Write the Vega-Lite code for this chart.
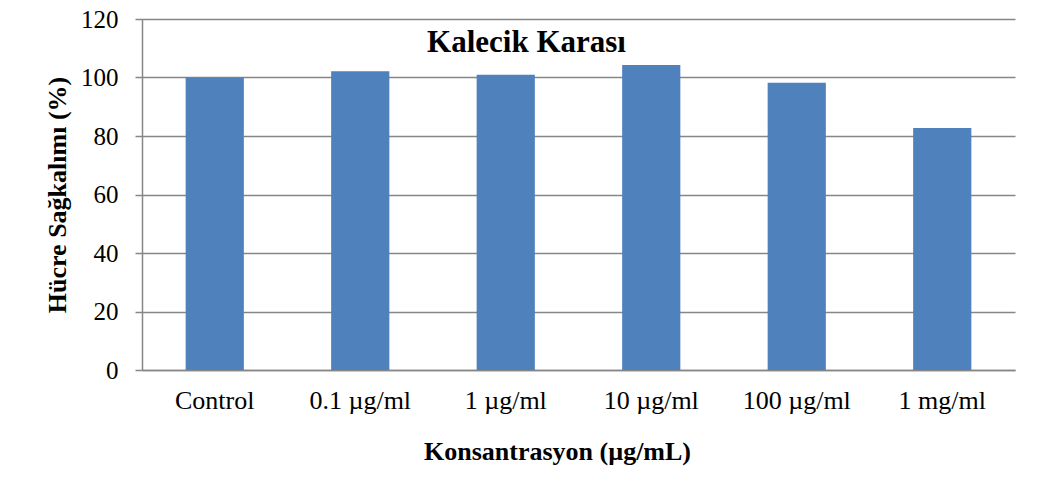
{
  "$schema": "https://vega.github.io/schema/vega-lite/v6.json",
  "width": 873,
  "height": 351,
  "autosize": {"type": "none"},
  "padding": {"left": 142, "top": 19, "right": 26, "bottom": 118},
  "background": "white",
  "data": {
    "values": [
      {"konsantrasyon": "Control", "sagkalim": 100.0},
      {"konsantrasyon": "0.1 µg/ml", "sagkalim": 102.1},
      {"konsantrasyon": "1 µg/ml", "sagkalim": 100.9},
      {"konsantrasyon": "10 µg/ml", "sagkalim": 104.3},
      {"konsantrasyon": "100 µg/ml", "sagkalim": 98.2},
      {"konsantrasyon": "1 mg/ml", "sagkalim": 82.7}
    ]
  },
  "title": {
    "text": "Kalecik Karası",
    "font": "Liberation Serif",
    "fontSize": 31,
    "fontWeight": "bold",
    "color": "black",
    "anchor": "middle",
    "offset": -52,
    "dx": -52
  },
  "mark": {"type": "bar", "color": "#4F81BD"},
  "encoding": {
    "x": {
      "field": "konsantrasyon",
      "type": "nominal",
      "sort": null,
      "scale": {"paddingInner": 0.6, "paddingOuter": 0.3},
      "axis": {
        "title": "Konsantrasyon (µg/mL)",
        "labelAngle": 0,
        "labelFont": "Liberation Serif",
        "labelFontSize": 26,
        "labelColor": "black",
        "labelPadding": 17,
        "ticks": false,
        "domainColor": "#868686",
        "domainWidth": 1.5,
        "titleFont": "Liberation Serif",
        "titleFontSize": 26,
        "titleFontWeight": "bold",
        "titleColor": "black",
        "titlePadding": 25,
        "titleX": 415
      }
    },
    "y": {
      "field": "sagkalim",
      "type": "quantitative",
      "scale": {"domain": [0, 120], "nice": false},
      "axis": {
        "title": "Hücre Sağkalımı (%)",
        "values": [0, 20, 40, 60, 80, 100, 120],
        "labelFont": "Liberation Serif",
        "labelFontSize": 25,
        "labelColor": "black",
        "labelPadding": 17,
        "tickSize": 7,
        "tickColor": "#868686",
        "tickWidth": 1.5,
        "domainColor": "#868686",
        "domainWidth": 1.5,
        "grid": true,
        "gridColor": "#868686",
        "gridWidth": 1.5,
        "titleFont": "Liberation Serif",
        "titleFontSize": 26,
        "titleFontWeight": "bold",
        "titleColor": "black",
        "titlePadding": 10
      }
    }
  },
  "config": {"view": {"stroke": null}}
}
